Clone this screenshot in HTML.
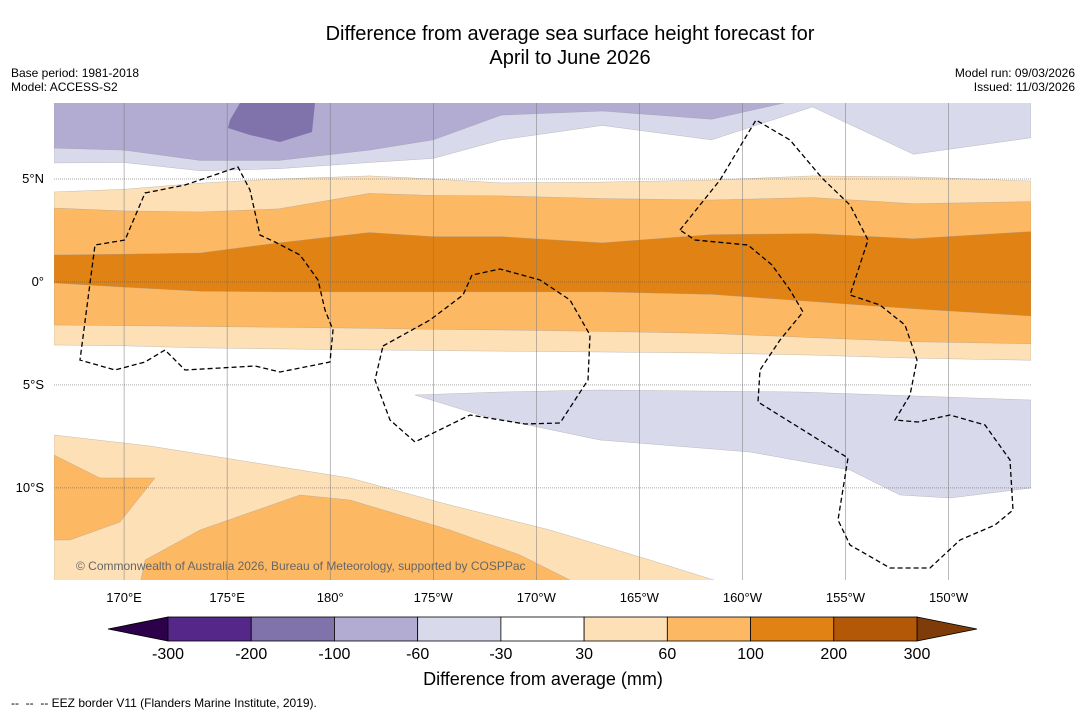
<!DOCTYPE html>
<html><head><meta charset="utf-8"><style>
body{margin:0;background:#fff;font-family:"Liberation Sans","DejaVu Sans",sans-serif;}
#wrap{position:relative;width:1085px;height:713px;overflow:hidden;}
.t{position:absolute;font-size:12px;color:#000;}
</style></head><body>
<div id="wrap">
<div class="t" style="left:0;width:1140px;top:22px;text-align:center;font-size:20px;line-height:24px;">Difference from average sea surface height forecast for<br>April to June 2026</div>
<div class="t" style="left:11px;top:66px;">Base period: 1981-2018<br>Model: ACCESS-S2</div>
<div class="t" style="right:10px;top:66px;text-align:right;">Model run: 09/03/2026<br>Issued: 11/03/2026</div>
<svg id="svg" width="1085" height="713" style="position:absolute;left:0;top:0"></svg>
<div class="t" style="left:11px;top:696px;">-- &nbsp;-- &nbsp;-- EEZ border V11 (Flanders Marine Institute, 2019).</div>
</div>
<script>
const lons = [166.6,170,173.7,177.5,181.9,185,188.3,193.2,198.5,203.4,208.3,214.0];
const lat30N  = [4.37,4.5,4.8,5.0,5.15,5.0,4.81,4.85,4.95,5.15,5.1,4.9];
const lat60N  = [3.59,3.45,3.4,3.55,4.3,4.2,4.18,4.05,3.98,4.1,3.8,3.9];
const lat100N = [1.31,1.35,1.41,1.9,2.4,2.2,2.2,1.9,2.3,2.35,2.1,2.45];
const lat100S = [-0.05,-0.25,-0.45,-0.48,-0.48,-0.48,-0.48,-0.48,-0.6,-0.95,-1.3,-1.65];
const lat60S  = [-2.09,-2.12,-2.16,-2.2,-2.25,-2.3,-2.33,-2.4,-2.5,-2.7,-2.9,-3.0];
const lat30S  = [-3.06,-3.1,-3.2,-3.25,-3.3,-3.33,-3.36,-3.4,-3.45,-3.55,-3.7,-3.8];
const latP100 = [6.5,6.4,5.9,5.9,6.4,6.9,8.1,8.3,7.9,9.0,9.0,9.0];
const latP60  = [5.78,5.8,5.4,5.5,5.8,6.0,6.9,7.6,6.9,8.5,6.2,7.0];
const cats = [-300,-200,-100,-60,-30,30,60,100,200,300];
const colors = ['#542788','#8073ac','#b2abd2','#d8daeb','#ffffff','#fee0b6','#fdb863','#e08214','#b35806'];
const x0=54,x1=1031,y0=103,y1=580,lonL=166.6,lonR=214.0,latT=8.69,latB=-14.47;
const X=l=>x0+(l-lonL)/(lonR-lonL)*(x1-x0);
const Y=a=>y0+(latT-a)/(latT-latB)*(y1-y0);
const svg=document.getElementById('svg');const NS='http://www.w3.org/2000/svg';
function add(tag,attrs,name,parent){const e=document.createElementNS(NS,tag);for(const k in attrs)e.setAttribute(k,attrs[k]);


(parent||svg).appendChild(e);return e;}
const defs=add('defs',{},'defs');const cp=add('clipPath',{id:'mc'},'clip',defs);add('rect',{x:x0,y:y0,width:x1-x0,height:y1-y0},'clip-rect',cp);
const g=add('g',{'clip-path':'url(#mc)'},'map-area');
add('rect',{x:x0,y:y0,width:x1-x0,height:y1-y0,fill:'#fff'},'ocean-bg',g);
function band(tp,bot,fill,name){let p=lons.map((l,i)=>X(l)+','+Y(tp[i]));for(let i=lons.length-1;i>=0;i--)p.push(X(lons[i])+','+Y(bot[i]));
add('polygon',{points:p.join(' '),fill:fill,stroke:'#999','stroke-width':0.3},name,g);}
const topEdge=lons.map(()=>9.5);
band(topEdge,latP60,'#d8daeb','band-neg60');band(topEdge,latP100,'#b2abd2','band-neg100');
band(lat30N,lat30S,'#fee0b6','band-30');band(lat60N,lat60S,'#fdb863','band-60');band(lat100N,lat100S,'#e08214','band-100');
add('polygon',{points:'230,120 240,103 315,103 312,132 280,142 250,135 228,128',fill:'#8073ac'},'blob-neg200',g);
add('polygon',{points:'415,395 500,392 600,390 800,392 1031,400 1031,488 950,498 900,495 850,470 750,452 600,440 480,415',fill:'#d8daeb',stroke:'#999','stroke-width':0.3},'south-neg60',g);
add('polygon',{points:'54,435 150,446 250,462 350,478 450,505 550,530 650,560 730,585 54,585',fill:'#fee0b6',stroke:'#999','stroke-width':0.3},'south-30',g);
add('polygon',{points:'54,455 100,478 155,478 120,522 70,540 54,540',fill:'#fdb863',stroke:'#999','stroke-width':0.3},'south-60a',g);
add('polygon',{points:'145,560 200,530 300,495 350,500 450,530 520,555 580,585 140,585',fill:'#fdb863',stroke:'#999','stroke-width':0.3},'south-60b',g);
const gridLons=[170,175,180,185,190,195,200,205,210];const gridLabels=['170°E','175°E','180°','175°W','170°W','165°W','160°W','155°W','150°W'];
const gridLats=[5,0,-5,-10];const latLabels=['5°N','0°','5°S','10°S'];
gridLons.forEach((l,i)=>{add('line',{x1:X(l),x2:X(l),y1:y0,y2:y1,stroke:'#777','stroke-width':0.5},'grid-lon',g);
const t=add('text',{x:X(l),y:602,'text-anchor':'middle','font-size':13},'lon-label');t.textContent=gridLabels[i];});
gridLats.forEach((a,i)=>{add('line',{x1:x0,x2:x1,y1:Y(a),y2:Y(a),stroke:'#555','stroke-width':0.5,'stroke-dasharray':'1,1'},'grid-lat',g);
const t=add('text',{x:44,y:Y(a)+4,'text-anchor':'end','font-size':13},'lat-label');t.textContent=latLabels[i];});
const eez=['M145,193 L185,185 L238,167 L250,190 L260,235 L275,242 L300,255 L318,280 L325,310 L333,330 L330,362 L280,372 L255,366 L185,370 L165,350 L145,362 L115,370 L80,360 L95,245 L125,240 Z',
'M383,346 L430,320 L463,295 L472,275 L500,269 L540,280 L570,300 L590,335 L588,380 L560,423 L525,424 L470,415 L415,442 L390,420 L375,380 Z',
'M680,230 L720,180 L756,120 L790,140 L822,178 L850,205 L868,240 L850,295 L880,305 L905,325 L917,360 L910,395 L895,420 L918,422 L950,415 L985,425 L1010,460 L1013,510 L995,525 L960,540 L930,568 L890,568 L850,545 L838,520 L848,458 L758,402 L760,370 L780,340 L803,312 L790,290 L772,265 L748,245 L695,240 Z'];
eez.forEach(d=>add('path',{d:d,fill:'none',stroke:'#000','stroke-width':1.3,'stroke-dasharray':'5,3'},'eez-border',g));
const cr=add('text',{x:76,y:570,'font-size':12,fill:'#666'},'copyright');cr.textContent='© Commonwealth of Australia 2026, Bureau of Meteorology, supported by COSPPac';
const cbL=168,cbR=917,cbT=617,cbB=641,sw=(cbR-cbL)/(cats.length-1);
add('polygon',{points:`108,629 ${cbL},${cbT} ${cbL},${cbB}`,fill:'#2d004b',stroke:'#000','stroke-width':0.8},'cb-under');
add('polygon',{points:`977,629 ${cbR},${cbT} ${cbR},${cbB}`,fill:'#7f3b08',stroke:'#000','stroke-width':0.8},'cb-over');
colors.forEach((c,i)=>add('rect',{x:cbL+i*sw,y:cbT,width:sw,height:cbB-cbT,fill:c,stroke:'#000','stroke-width':0.8},'cb-swatch'));
cats.forEach((v,i)=>{const t=add('text',{x:cbL+i*sw,y:659,'text-anchor':'middle','font-size':16},'cb-tick');t.textContent=v;});
const ct=add('text',{x:543,y:685,'text-anchor':'middle','font-size':18},'cb-title');ct.textContent='Difference from average (mm)';
</script>
</body></html>
